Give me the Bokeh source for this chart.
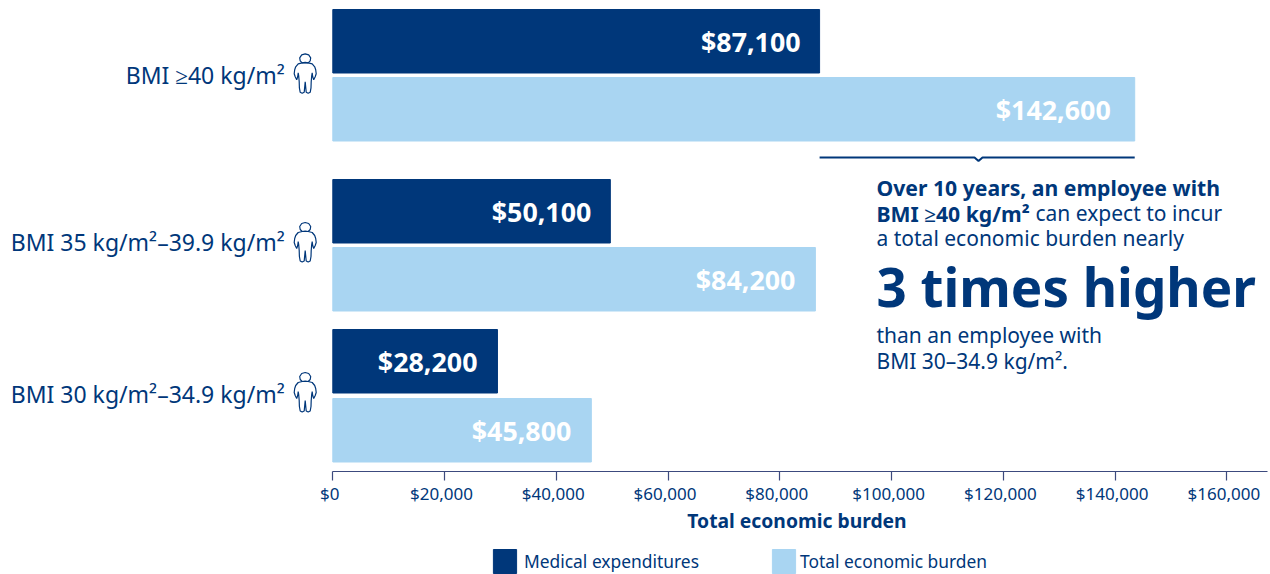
from bokeh.plotting import figure
from bokeh.models import Range1d, FixedTicker, Label, Legend, LegendItem, PolyAnnotation, ColumnDataSource, LinearAxis
from bokeh.core.properties import value
from bokeh.embed import file_html
from bokeh.resources import INLINE

categories = ["BMI \u226540 kg/m\u00b2", "BMI 35 kg/m\u00b2\u201339.9 kg/m\u00b2", "BMI 30 kg/m\u00b2\u201334.9 kg/m\u00b2"]
medical_bar = [87120, 49670, 29470]
total_bar = [143520, 86370, 46270]
medical_labels = ["$87,100", "$50,100", "$28,200"]
total_labels = ["$142,600", "$84,200", "$45,800"]
tick_values = [0, 20000, 40000, 60000, 80000, 100000, 120000, 140000, 160000]
tick_labels = ["$0", "$20,000", "$40,000", "$60,000", "$80,000", "$100,000", "$120,000", "$140,000", "$160,000"]

NAVY = "#00377A"
LIGHT = "#A9D5F2"
AXIS = "#3C4A7E"
FONT = "Noto Sans"

W, H = 1270, 574
X0_PX = 332.3
PX_PER_UNIT = 111.75 / 20000
AXIS_END = (1267 - X0_PX) / PX_PER_UNIT
AXIS_Y = 471
LABEL_SHIFT = 3 / PX_PER_UNIT

def dx(px):
    return (px - X0_PX) / PX_PER_UNIT

# frame covers the whole canvas; y data units are page pixels
p = figure(width=W, height=H, output_backend="svg", toolbar_location=None,
           x_range=Range1d(dx(0), dx(W)), y_range=Range1d(H, 0),
           min_border=0, outline_line_color=None,
           background_fill_color="white", border_fill_color="white")
p.grid.visible = False

med_y = [40.75, 210.75, 360.75]
tot_y = [108.75, 278.75, 429.75]
label_y = [74, 241, 393]
med_off = [-19, -19, -20]
tot_off = [-24, -20, -20]

src = ColumnDataSource(dict(med_y=med_y, tot_y=tot_y, med=medical_bar, tot=total_bar,
                            med_l=medical_labels, tot_l=total_labels, med_o=med_off, tot_o=tot_off))
r_med = p.hbar(y="med_y", left=0, right="med", height=63.5, color=NAVY, source=src)
r_tot = p.hbar(y="tot_y", left=0, right="tot", height=63.5, color=LIGHT, source=src)

for x, y, t, o in (("med", "med_y", "med_l", "med_o"), ("tot", "tot_y", "tot_l", "tot_o")):
    p.text(x=x, y=y, text=t, source=src, x_offset=o, y_offset=0, text_align="right",
           text_baseline="middle", text_color="white", text_font=value(FONT),
           text_font_style="bold", text_font_size="26.8px")

# x axis: line and ticks
ax = p.xaxis[0]
ax.fixed_location = AXIS_Y
ax.bounds = (0, AXIS_END)
ax.ticker = FixedTicker(ticks=tick_values)
ax.major_label_overrides = {v: "" for v in tick_values}
ax.major_tick_in = 0
ax.major_tick_out = 9
ax.minor_tick_line_color = None
ax.axis_line_color = AXIS
ax.major_tick_line_color = AXIS
ax.axis_line_width = 1.2
ax.major_tick_line_width = 1.2

# x axis: labels and title, sitting slightly left of the ticks as in the reference
lab_ticks = [v - LABEL_SHIFT for v in tick_values]
ax2 = LinearAxis(fixed_location=AXIS_Y, bounds=(-LABEL_SHIFT - 1, AXIS_END - LABEL_SHIFT),
                 ticker=FixedTicker(ticks=lab_ticks),
                 major_label_overrides=dict(zip(lab_ticks, tick_labels)),
                 major_tick_in=0, major_tick_out=9, major_tick_line_color=None,
                 minor_tick_line_color=None, axis_line_color=None,
                 major_label_text_font=FONT, major_label_text_font_size="17px",
                 major_label_text_color=NAVY, major_label_standoff=1,
                 axis_label="Total economic burden", axis_label_text_font=FONT,
                 axis_label_text_font_size="19.3px", axis_label_text_font_style="bold",
                 axis_label_text_color=NAVY, axis_label_standoff=-1)
p.add_layout(ax2, "below")

# y axis
ay = p.yaxis[0]
ay.fixed_location = 0
ay.ticker = FixedTicker(ticks=label_y)
ay.major_label_overrides = dict(zip(label_y, categories))
ay.major_label_text_font = FONT
ay.major_label_text_font_size = "23px"
ay.major_label_text_color = NAVY
ay.major_label_standoff = 42
ay.axis_line_color = None
ay.major_tick_line_color = None
ay.minor_tick_line_color = None

# bracket
bx0, bx1 = medical_bar[0], total_bar[0]
bm = dx(978)
d = dx(982) - bm
p.line([bx0, bm - d, bm, bm + d, bx1], [157, 157, 160.5, 157, 157], line_color=NAVY, line_width=2)

# callout text
def txt(s, x, y, size, bold=False):
    p.add_layout(Label(x=dx(x), y=y - 0.4 * size, text=s, text_font=FONT, text_font_size=f"{size}px",
                       text_font_style="bold" if bold else "normal", text_color=NAVY,
                       text_baseline="alphabetic", text_align="left"))

txt("Over 10 years, an employee with", 876, 195, 21.2, True)
txt("BMI \u226540 kg/m\u00b2", 876, 221, 21.2, True)
txt("can expect to incur", 1035, 221, 21)
txt("a total economic burden nearly", 876, 246, 21)
txt("3 times higher", 876, 307, 52.9, True)
txt("than an employee with", 876, 343, 21)
txt("BMI 30\u201334.9 kg/m\u00b2.", 876, 369, 21)

# person icons
HEAD = [(-3, -1), (-5, -3), (-5.5, -6), (-3.5, -9), (0, -10), (3.5, -9), (5.5, -6), (5, -3), (3, -1)]
BODY = [(-3, -1), (-7, 0), (-9.5, 3), (-10.5, 6), (-11, 10), (-10, 13), (-8.5, 16), (-7.5, 13), (-7, 9),
        (-6.5, 12), (-6, 18), (-5.8, 24), (-5, 28.5), (-3, 29.5), (-1, 28.5), (0, 18),
        (1, 28.5), (3, 29.5), (5, 28.5), (5.8, 24), (6, 18), (6.5, 12), (7, 9),
        (7.5, 13), (8.5, 16), (10, 13), (11, 10), (10.5, 6), (9.5, 3), (7, 0), (3, -1), (0, -1.5)]
icon_x = 304.7
icon_y = [63.3, 232, 382]
for cy in icon_y:
    for shape in (HEAD, BODY):
        p.add_layout(PolyAnnotation(
            xs=[dx(icon_x + a) for a, _ in shape], ys=[cy + b for _, b in shape],
            xs_units="data", ys_units="data", fill_alpha=0, line_color=NAVY, line_alpha=1, line_width=1.2))

# legend
def legend(label, rend, left, standoff):
    leg = Legend(items=[LegendItem(label=label, renderers=[rend])],
                 location=(left - 3, -2), orientation="horizontal",
                 glyph_width=29, glyph_height=30, label_standoff=standoff, padding=0, margin=0,
                 border_line_color=None, background_fill_alpha=0,
                 label_text_font=FONT, label_text_font_size="17.4px", label_text_color=NAVY,
                 label_text_baseline="middle")
    p.add_layout(leg)

legend("Medical expenditures", r_med, 493, 5)
legend("Total economic burden", r_tot, 772, 2)

open("out.html", "w").write(file_html(p, INLINE))
